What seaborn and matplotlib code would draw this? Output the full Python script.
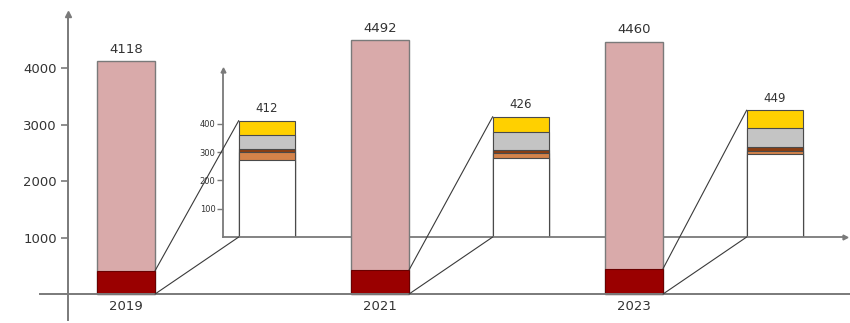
import matplotlib
matplotlib.use("Agg")
import matplotlib.pyplot as plt
import seaborn as sns
from matplotlib.patches import ConnectionPatch

# Totals per year and the breakdown of the dark bottom part
years = ["2019", "2021", "2023"]
totals = [4118, 4492, 4460]
seg_base = [272, 280, 293]
seg_orange = [28, 17, 12]
seg_brown = [11, 10, 14]
seg_gray = [49, 65, 65]
seg_yellow = [52, 54, 65]
main_ticks = [1000, 2000, 3000, 4000]
detail_ticks = [100, 200, 300, 400]

# bottom part of each main bar = sum of its breakdown
detail_totals = [b + o + br + g + y for b, o, br, g, y in
                 zip(seg_base, seg_orange, seg_brown, seg_gray, seg_yellow)]

sns.set_style("white")
plt.rcParams["font.family"] = ["DejaVu Sans"]

PINK = "#D9AAAA"
DARK_RED = "#9A0000"
YELLOW = "#FFD000"
GRAY = "#C4C4C4"
BROWN = "#8A3E12"
ORANGE = "#D4834A"
AXIS = "#7a7a7a"
TEXT = "#333333"

W, H = 850, 323
fig = plt.figure(figsize=(W / 100, H / 100), dpi=100)

# detail axes (behind the main bars)
ax_in = fig.add_axes([223 / W, (H - 237) / H, (845 - 223) / W, (237 - 70) / H])
ax_in.set_zorder(1)
ax_in.patch.set_alpha(0)

# main axes
ax = fig.add_axes([40 / W, 3 / H, 810 / W, 306 / H])
ax.set_zorder(2)
ax.patch.set_alpha(0)

bw_main = 0.228
bw_in = 0.222

# ---- main bars
sns.barplot(x=years, y=totals, color=PINK, width=bw_main, saturation=1,
            edgecolor=AXIS, linewidth=1.0, errorbar=None, ax=ax)
sns.barplot(x=years, y=detail_totals, color=DARK_RED, width=bw_main, saturation=1,
            edgecolor="#6a0000", linewidth=0.8, errorbar=None, ax=ax)
ax.bar_label(ax.containers[0], labels=[str(v) for v in totals], padding=4,
             fontsize=9.5, color=TEXT)

ax.set_xlim(-0.339, 2.850)
ax.set_ylim(-460, 4956)
ax.spines["left"].set_position(("data", -0.228))
ax.spines["bottom"].set_position(("data", 0))
for s in ("top", "right"):
    ax.spines[s].set_visible(False)
for s in ("left", "bottom"):
    ax.spines[s].set_color(AXIS)
    ax.spines[s].set_linewidth(1.4)
ax.set_yticks(main_ticks)
ax.set_yticklabels([str(t) for t in main_ticks])
ax.tick_params(axis="y", direction="out", length=5, width=1.2, color=AXIS,
               labelsize=9.5, labelcolor=TEXT, pad=3, left=True)
ax.tick_params(axis="x", length=0, labelsize=9.5, labelcolor=TEXT, pad=4)
ax.set_xlabel("")
ax.set_ylabel("")
ax.plot(-0.228, 4956, marker="^", ms=4, color=AXIS, clip_on=False)

# ---- stacked detail bars: draw cumulative heights from the top down
layers = [seg_base, seg_orange, seg_brown, seg_gray, seg_yellow]
colors = ["white", ORANGE, BROWN, GRAY, YELLOW]
cum = []
run = [0, 0, 0]
for seg in layers:
    run = [r + s for r, s in zip(run, seg)]
    cum.append(run)
for heights, col in zip(reversed(cum), reversed(colors)):
    sns.barplot(x=years, y=heights, color=col, width=bw_in, saturation=1,
                edgecolor="#4a4a4a", linewidth=0.8, errorbar=None, ax=ax_in)
ax_in.bar_label(ax_in.containers[0], labels=[str(v) for v in cum[-1]],
                padding=4, fontsize=8.5, color=TEXT)

ax_in.set_xlim(-0.173, 2.276)
ax_in.set_ylim(0, 591)
for s in ("top", "right"):
    ax_in.spines[s].set_visible(False)
for s in ("left", "bottom"):
    ax_in.spines[s].set_color(AXIS)
    ax_in.spines[s].set_linewidth(1.3)
ax_in.set_yticks(detail_ticks)
ax_in.set_yticklabels([str(t) for t in detail_ticks])
ax_in.tick_params(axis="y", direction="out", length=4, width=1, color=AXIS,
                  labelsize=6, labelcolor=TEXT, pad=1.5, left=True)
ax_in.set_xticks([])
ax_in.set_xlabel("")
ax_in.set_ylabel("")
ax_in.plot(0, 1, marker="^", ms=3.5, color=AXIS, transform=ax_in.transAxes,
           clip_on=False)
ax_in.plot(1, 0, marker=">", ms=3.5, color=AXIS, transform=ax_in.transAxes,
           clip_on=False)

# ---- connector lines from the dark bottom part to its breakdown
for i, top in enumerate(detail_totals):
    for yv in (top, 0):
        con = ConnectionPatch(xyA=(i + bw_main / 2, yv), coordsA=ax.transData,
                              xyB=(i - bw_in / 2, yv), coordsB=ax_in.transData,
                              color="#3a3a3a", lw=0.8)
        con.set_zorder(3)
        fig.add_artist(con)

fig.savefig("out.png", dpi=100)
